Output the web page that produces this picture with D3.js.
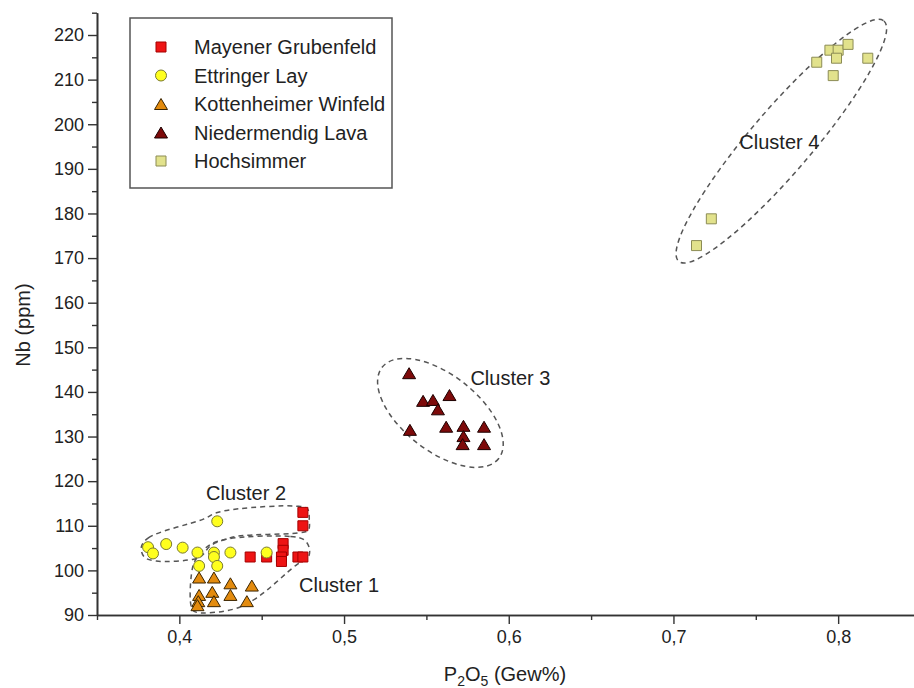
<!DOCTYPE html>
<html>
<head>
<meta charset="utf-8">
<script src="https://cdn.jsdelivr.net/npm/d3@7"></script>
<style>
  body { margin: 0; background: #fff; }
  text { font-family: "Liberation Sans", Arial, sans-serif; fill: #222; }
</style>
</head>
<body>
<div id="chart"></div>
<script>
// values: P2O5 (Gew%) and Nb (ppm) per locality
const mayenerP  = [0.475, 0.475, 0.463, 0.463, 0.462, 0.462, 0.443, 0.453, 0.472, 0.475];
const mayenerNb = [113, 110, 106, 104.5, 103, 102, 103, 103, 103, 103];

const ettringerP  = [0.423, 0.381, 0.384, 0.392, 0.402, 0.411, 0.421, 0.421, 0.412, 0.423, 0.431, 0.453];
const ettringerNb = [111, 105.2, 103.8, 105.9, 105.1, 104, 104, 103, 101, 101, 104, 104];

const kottenP  = [0.412, 0.421, 0.431, 0.444, 0.412, 0.420, 0.421, 0.4115, 0.411, 0.431, 0.441];
const kottenNb = [98.4, 98.4, 97.1, 96.6, 94.5, 95.2, 93.1, 93.1, 92.2, 94.5, 93.1];

const niederP  = [0.5395, 0.548, 0.554, 0.557, 0.564, 0.540, 0.562, 0.5725, 0.5725, 0.572, 0.585, 0.585];
const niederNb = [144.2, 138, 138.2, 136.1, 139.3, 131.5, 132.2, 132.4, 130.1, 128.3, 132.2, 128.3];

const hochP  = [0.714, 0.723, 0.787, 0.795, 0.800, 0.806, 0.799, 0.818, 0.797];
const hochNb = [172.8, 178.8, 213.9, 216.6, 216.6, 217.9, 214.8, 214.8, 210.9];

const seriesNames = ["Mayener Grubenfeld", "Ettringer Lay", "Kottenheimer Winfeld", "Niedermendig Lava", "Hochsimmer"];

const xMajor = [0.4, 0.5, 0.6, 0.7, 0.8];
const xMinor = [0.35, 0.45, 0.55, 0.65, 0.75, 0.85];
const yMajor = d3.range(90, 221, 10);
const yMinor = d3.range(95, 226, 10);

// cluster annotations (data coordinates)
const cluster1Outline = [[0.4285,107.0],[0.4674,107.6],[0.4759,106.8],[0.4789,105.0],[0.4783,103.0],[0.4710,101.2],
  [0.4468,93.8],[0.4328,91.3],[0.4097,90.7],[0.4073,91.8],[0.4073,99.0],[0.4097,102.3],[0.4176,105.5]];
const cluster2Outline = [[0.3769,105.2],[0.3812,107.3],[0.4146,111.5],[0.4225,112.9],[0.4358,113.8],[0.4710,114.4],
  [0.4777,113.8],[0.4789,111.3],[0.4783,109.0],[0.4723,108.4],[0.4358,107.7],[0.4267,106.8],[0.4188,105.5],
  [0.4134,103.2],[0.4085,102.5],[0.3860,102.1],[0.3787,103.0]];
const clusterLabels = [
  {text: "Cluster 1", p: 0.497, nb: 96.7},
  {text: "Cluster 2", p: 0.4405, nb: 117.4},
  {text: "Cluster 3", p: 0.601, nb: 143.1},
  {text: "Cluster 4", p: 0.7643, nb: 196.0}
];
const clusterEllipses = [
  {p: 0.5585, nb: 135.3, rx: 74, ry: 38, angle: 38},
  {p: 0.7655, nb: 196.2, rx: 158, ry: 31, angle: -49.5}
];

// canvas
const canvWidth = 914, canvHeight = 688;
const svg = d3.select("#chart").append("svg")
    .attr("width", canvWidth)
    .attr("height", canvHeight);

const x = d3.scaleLinear().domain([0.35, 0.85]).range([97, 920.5]);
const y = d3.scaleLinear().domain([90, 225]).range([615, 12.7]);

const commaFmt = d => d3.format(".1f")(d).replace(".", ",");

// marker shapes
const tri = (w, h) => `M0,${-h/2}L${w/2},${h/2}L${-w/2},${h/2}Z`;
const sq = s => `M${-s/2},${-s/2}h${s}v${s}h${-s}Z`;
const circ = r => `M${r},0A${r},${r},0,1,1,${-r},0A${r},${r},0,1,1,${r},0Z`;

const styles = [
  {path: sq(10),      fill: "#ee1414", stroke: "#a40000"},
  {path: circ(5.5),   fill: "#ffff1e", stroke: "#7a7a30"},
  {path: tri(13, 11), fill: "#e38b0e", stroke: "#3a2400"},
  {path: tri(13, 11), fill: "#7d0a0a", stroke: "#1c0000"},
  {path: sq(10),      fill: "#e2e28c", stroke: "#8c8c55"}
];

const seriesP = [mayenerP, ettringerP, kottenP, niederP, hochP];
const seriesNb = [mayenerNb, ettringerNb, kottenNb, niederNb, hochNb];

// cluster outlines
const outline = d3.line()
    .curve(d3.curveCatmullRomClosed.alpha(0.5))
    .x(d => x(d[0])).y(d => y(d[1]));

const annot = svg.append("g")
    .attr("fill", "none")
    .attr("stroke", "#555")
    .attr("stroke-width", 1.5)
    .attr("stroke-dasharray", "5,4");

annot.selectAll("path.outline")
  .data([cluster1Outline, cluster2Outline])
  .join("path")
    .attr("class", "outline")
    .attr("d", outline);

annot.selectAll("ellipse")
  .data(clusterEllipses)
  .join("ellipse")
    .attr("rx", d => d.rx)
    .attr("ry", d => d.ry)
    .attr("transform", d => `translate(${x(d.p)},${y(d.nb)}) rotate(${d.angle})`);

svg.selectAll("text.cluster")
  .data(clusterLabels)
  .join("text")
    .attr("class", "cluster")
    .attr("x", d => x(d.p))
    .attr("y", d => y(d.nb))
    .attr("dy", "0.35em")
    .attr("text-anchor", "middle")
    .style("font-size", "20px")
    .text(d => d.text);

// axes
const xAxis = svg.append("g").attr("transform", `translate(0,${y(90)})`);
xAxis.call(d3.axisBottom(x).tickValues(xMinor).tickSize(5).tickSizeOuter(0).tickFormat(""));
xAxis.append("g").call(d3.axisBottom(x).tickValues(xMajor).tickSize(9).tickSizeOuter(0).tickPadding(6).tickFormat(commaFmt));

const yAxis = svg.append("g").attr("transform", `translate(${x(0.35)},0)`);
yAxis.call(d3.axisLeft(y).tickValues(yMinor).tickSize(5).tickSizeOuter(0).tickFormat(""));
yAxis.append("g").call(d3.axisLeft(y).tickValues(yMajor).tickSize(9).tickSizeOuter(0).tickPadding(4));

svg.selectAll(".domain").attr("stroke", "#333").attr("stroke-width", 1.6);
svg.selectAll(".tick line").attr("stroke", "#333").attr("stroke-width", 1.4);
svg.selectAll(".tick text").style("font-size", "18px").attr("fill", "#222")
    .style("font-family", "'Liberation Sans', Arial, sans-serif");

// axis titles
svg.append("text")
    .attr("transform", "translate(30,325) rotate(-90)")
    .attr("text-anchor", "middle")
    .style("font-size", "20px")
    .text("Nb (ppm)");

const xt = svg.append("text")
    .attr("x", 505).attr("y", 681)
    .attr("text-anchor", "middle")
    .style("font-size", "20px");
xt.append("tspan").text("P");
xt.append("tspan").text("2").style("font-size", "14px").attr("dy", 5);
xt.append("tspan").text("O").attr("dy", -5);
xt.append("tspan").text("5").style("font-size", "14px").attr("dy", 5);
xt.append("tspan").text(" (Gew%)").attr("dy", -5);

// points
seriesP.forEach((ps, i) => {
  svg.append("g").selectAll("path")
    .data(ps.map((p, j) => ({p: p, nb: seriesNb[i][j]})))
    .join("path")
      .attr("d", styles[i].path)
      .attr("transform", d => `translate(${x(d.p)},${y(d.nb)})`)
      .attr("fill", styles[i].fill)
      .attr("stroke", styles[i].stroke)
      .attr("stroke-width", 1);
});

// legend
const legend = svg.append("g");
legend.append("rect")
    .attr("x", 130).attr("y", 18)
    .attr("width", 262).attr("height", 170)
    .attr("fill", "#fff")
    .attr("stroke", "#555")
    .attr("stroke-width", 1.5);

const rows = legend.selectAll("g.row")
  .data(seriesNames)
  .join("g")
    .attr("class", "row")
    .attr("transform", (d, i) => `translate(0,${47 + i * 28.5})`);

rows.append("path")
    .attr("d", (d, i) => styles[i].path)
    .attr("transform", "translate(161,0)")
    .attr("fill", (d, i) => styles[i].fill)
    .attr("stroke", (d, i) => styles[i].stroke);

rows.append("text")
    .attr("x", 194)
    .attr("dy", "0.35em")
    .style("font-size", "20px")
    .text(d => d);
</script>
</body>
</html>
